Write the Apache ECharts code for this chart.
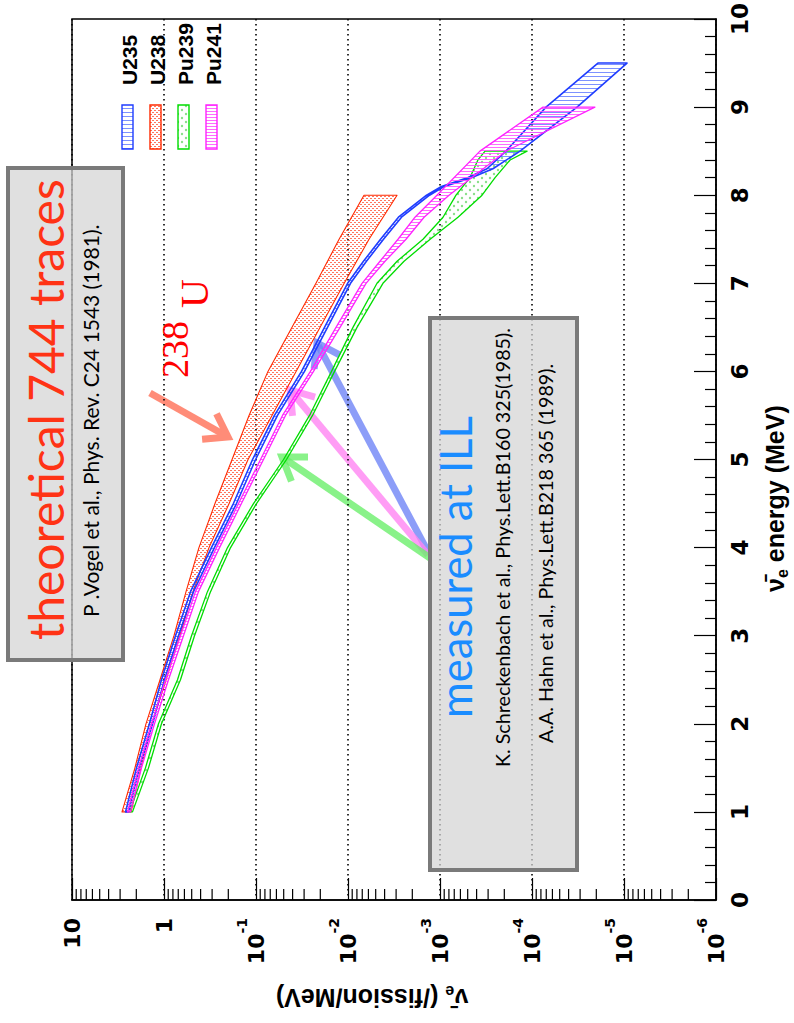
<!DOCTYPE html>
<html><head><meta charset="utf-8">
<script src="https://cdn.jsdelivr.net/npm/echarts@6/dist/echarts.min.js"></script>
<style>html,body{margin:0;padding:0;background:#fff}#c{width:794px;height:1023px}</style>
</head><body><div id="c"></div>
<script>
// ---- data (flux in nu / fission / MeV, energy in MeV) ----
const u235E  = [1.0,1.5,2.0,2.5,3.0,3.5,4.0,4.5,5.0,5.5,6.0,6.5,7.0,7.25,7.5,7.75,8.0,8.1,8.2,8.3,8.5,9.0,9.5];
const u235Hi = [2.62,1.99,1.44,1.065,0.750,0.515,0.305,0.176,0.109,0.0630,0.0320,0.0180,0.0101,0.00679,0.00443,0.00283,0.00140,0.000964,0.000496,0.000308,0.000192,0.0000704,0.0000192];
const u235Lo = [2.43,1.85,1.33,0.988,0.696,0.478,0.283,0.163,0.101,0.0584,0.0297,0.0167,0.00939,0.00630,0.00411,0.00262,0.00130,0.000894,0.000449,0.000266,0.000135,0.0000324,0.00000927];

const u238E  = [1.0,1.5,2.0,2.5,3.0,3.5,4.0,4.5,5.0,5.5,6.0,6.5,7.0,7.5,8.0];
const u238Hi = [2.86,2.07,1.57,1.105,0.779,0.576,0.417,0.279,0.182,0.119,0.0741,0.0406,0.0223,0.0125,0.00670];
const u238Lo = [2.28,1.78,1.35,0.95,0.670,0.484,0.324,0.196,0.122,0.0670,0.0367,0.0201,0.0110,0.00591,0.00293];

const pu239E  = [1.0,1.5,2.0,2.5,3.0,3.5,4.0,4.5,5.0,5.5,6.0,6.5,7.0,7.25,7.5,7.75,8.0,8.2,8.4,8.5];
const pu239Hi = [2.37,1.59,1.148,0.713,0.502,0.337,0.204,0.1065,0.0502,0.0262,0.0151,0.00883,0.00484,0.00293,0.00153,0.000927,0.000670,0.000472,0.000387,0.000324];
const pu239Lo = [2.20,1.474,1.065,0.662,0.466,0.312,0.189,0.0988,0.0466,0.0243,0.0140,0.00798,0.00417,0.00246,0.00128,0.000637,0.000349,0.000252,0.000173,0.000113];

const pu241E  = [1.0,1.5,2.0,2.5,3.0,3.5,4.0,4.5,5.0,5.5,6.0,6.5,7.0,7.25,7.5,7.75,8.0,8.5,9.0];
const pu241Hi = [2.49,1.89,1.367,0.963,0.662,0.455,0.269,0.155,0.0893,0.0515,0.0256,0.0135,0.00704,0.00449,0.00286,0.00187,0.00108,0.000368,0.0000759];
const pu241Lo = [2.31,1.756,1.268,0.894,0.614,0.422,0.249,0.144,0.0829,0.0478,0.0237,0.0122,0.00637,0.00396,0.00234,0.00149,0.000798,0.000192,0.0000207];

const isotopeNames = ['U235','U238','Pu239','Pu241'];
const logExponents = [1,0,-1,-2,-3,-4,-5,-6];
const minorMultipliers = [2,3,4,5,6,7,8,9];

// ---- styling helpers ----
const FONT = '"Liberation Sans", Arial, Helvetica, sans-serif';
const TFONT = '"DejaVu Sans", Verdana, sans-serif';
const AFONT = 'Lato, "Open Sans", "Liberation Sans", sans-serif';
function pat(w,h,draw){const c=document.createElement('canvas');c.width=w;c.height=h;const g=c.getContext('2d');draw(g);return {image:c.toDataURL(),repeat:'repeat'};}
const patU235  = pat(4,4,g=>{g.fillStyle='rgba(70,100,255,0.7)';g.fillRect(0,0,4,1);});
const patPu241 = pat(3,3,g=>{g.fillStyle='rgba(255,80,255,0.85)';g.fillRect(0,0,3,1);});
const patU238  = pat(4,4,g=>{g.fillStyle='rgba(255,70,40,0.75)';g.fillRect(0,0,2,1);g.fillRect(2,2,2,1);});
const patPu239 = pat(8,8,g=>{g.fillStyle='rgba(60,200,60,0.6)';g.beginPath();g.arc(2,2,1.2,0,7);g.fill();g.beginPath();g.arc(6,6,1.2,0,7);g.fill();});

const styles = {
  U235: {stroke:'#1f3dff', fill:patU235, lw:1.6},
  U238: {stroke:'#ff2a00', fill:patU238, lw:1.1},
  Pu239:{stroke:'#00dd00', fill:patPu239, lw:1.3},
  Pu241:{stroke:'#ff22ff', fill:patPu241, lw:1.3}
};

function band(name, E, hi, lo, z){
  const st = styles[name];
  return {
    type:'custom', name:name, coordinateSystem:'cartesian2d', silent:true, z:z,
    data: E.map((e,i)=>[hi[i], e, lo[i]]),
    encode:{x:[0,2], y:1},
    renderItem:function(params, api){
      if(params.dataIndex!==0) return null;
      const pts=[];
      for(let i=0;i<E.length;i++) pts.push(api.coord([hi[i],E[i]]));
      for(let i=E.length-1;i>=0;i--) pts.push(api.coord([lo[i],E[i]]));
      return {type:'polygon', shape:{points:pts}, style:{fill:st.fill, stroke:st.stroke, lineWidth:st.lw, lineJoin:'round'}};
    }
  };
}

const logMinor=[];
logExponents.forEach(n=>{ if(n<1) minorMultipliers.forEach(k=>logMinor.push(k*Math.pow(10,n))); });

function arrow(tail, tip, color, w, op, hl, ang){
  const dx=tip[0]-tail[0], dy=tip[1]-tail[1], L=Math.hypot(dx,dy), ux=dx/L, uy=dy/L;
  const c=Math.cos(ang), s=Math.sin(ang);
  const b1=[tip[0]-hl*(ux*c-uy*s), tip[1]-hl*(uy*c+ux*s)];
  const b2=[tip[0]-hl*(ux*c+uy*s), tip[1]-hl*(uy*c-ux*s)];
  return {type:'group', z:20, children:[
    {type:'polyline', shape:{points:[tail,[tip[0]-ux*3,tip[1]-uy*3]]}, style:{stroke:color, lineWidth:w, opacity:op, lineCap:'butt'}},
    {type:'polyline', shape:{points:[b1,tip,b2]}, style:{stroke:color, lineWidth:w, opacity:op, lineJoin:'miter', lineCap:'butt', fill:null}}
  ]};
}

const R = Math.PI/2;
function rtext(x,y,text,size,color,family,weight,align,extra){
  return Object.assign({type:'text', x:x, y:y, rotation:R, z:30,
    style:{text:text, fontSize:size, fontFamily:family, fontWeight:weight||'normal', fill:color, align:align||'left', verticalAlign:'middle'}}, extra||{});
}

const legendX = {U235:122, U238:150, Pu239:178, Pu241:206};
const legendEls = [];
isotopeNames.forEach(n=>{
  const x=legendX[n];
  legendEls.push({type:'rect', shape:{x:x,y:105,width:11,height:44}, style:{fill:styles[n].fill, stroke:styles[n].stroke, lineWidth:1.4}, z:30});
  legendEls.push(rtext(x+7.5,85,n,21,'#000',FONT,'bold','left'));
});

const titleRich = {n:{fontSize:25,fontWeight:'bold',fontFamily:FONT}, e:{fontSize:16,fontWeight:'bold',fontFamily:FONT,verticalAlign:'bottom',lineHeight:30}, t:{fontSize:25,fontWeight:'bold',fontFamily:FONT}};

const option = {
  animation:false,
  backgroundColor:'#fff',
  grid:{left:72, right:78, top:5, bottom:123, show:true, borderColor:'#000', borderWidth:1.5, backgroundColor:'transparent'},
  xAxis:{
    type:'log', logBase:10, min:1e-6, max:10, inverse:true, position:'bottom', splitNumber:7,
    axisLine:{show:true, onZero:false, lineStyle:{color:'#000', width:1.5}},
    axisTick:{show:true, inside:true, length:22, lineStyle:{color:'#000', width:1.2}},
    axisLabel:{rotate:90, margin:18, color:'#000', padding:[0,0,10,0],
      formatter:function(v){const n=Math.round(Math.log10(v)); if(n===1) return '{b|10}'; if(n===0) return '{b|1}'; return '{b|10}{s|'+n+'}';},
      rich:{b:{fontSize:22, fontWeight:'bold', fontFamily:TFONT, color:'#000', lineHeight:32, verticalAlign:'bottom'},
            s:{fontSize:14, fontWeight:'bold', fontFamily:TFONT, color:'#000', lineHeight:32, verticalAlign:'top'}}},
    splitLine:{show:true, lineStyle:{color:'#000', type:[1.5,3.5], width:1.6}}
  },
  yAxis:{
    type:'value', min:0, max:10, interval:1, position:'right',
    axisLine:{show:true, onZero:false, lineStyle:{color:'#000', width:1.5}},
    axisTick:{show:true, inside:true, length:22, lineStyle:{color:'#000', width:1.2}},
    minorTick:{show:true, splitNumber:5, length:11, lineStyle:{color:'#000', width:1.2}},
    axisLabel:{rotate:90, margin:12, color:'#000', fontSize:23, fontWeight:'bold', fontFamily:TFONT},
    splitLine:{show:false}
  },
  series:[
    band('U238', u238E, u238Hi, u238Lo, 2),
    band('Pu239', pu239E, pu239Hi, pu239Lo, 3),
    band('U235', u235E, u235Hi, u235Lo, 4),
    band('Pu241', pu241E, pu241Hi, pu241Lo, 5),
    {type:'custom', name:'minorTicks', silent:true, z:10, clip:false,
     data: logMinor.map(v=>[v,0]), encode:{x:0,y:1},
     renderItem:function(p,api){const pt=api.coord([api.value(0),0]); return {type:'line', shape:{x1:pt[0],y1:pt[1],x2:pt[0],y2:pt[1]-11}, style:{stroke:'#000', lineWidth:1.2}};}}
  ],
  graphic:[
    // theory box
    {type:'rect', shape:{x:8,y:168,width:115,height:492}, style:{fill:'rgba(212,212,212,0.72)', stroke:'#7a7a7a', lineWidth:4}, z:15},
    rtext(45,640,'theoretical 744 traces',48,'#ff3315',AFONT,'normal','left'),
    rtext(90,617,'P .Vogel et al., Phys. Rev. C24 1543 (1981).',21,'#000',AFONT,'normal','left'),
    // ILL box
    {type:'rect', shape:{x:430,y:318,width:147,height:552}, style:{fill:'rgba(212,212,212,0.72)', stroke:'#7a7a7a', lineWidth:4}, z:15},
    rtext(455,718,'measured at ILL',43.5,'#1a8cff',AFONT,'normal','left'),
    rtext(502,767,'K. Schreckenbach et al., Phys.Lett.B160 325(1985).',19.7,'#000',AFONT,'normal','left'),
    rtext(545,743,'A.A. Hahn et al., Phys.Lett.B218 365 (1989).',19.7,'#000',AFONT,'normal','left'),
    // 238U label
    rtext(175,378,'238',38,'#ff0000','"Liberation Serif", "Times New Roman", serif','normal','left'),
    rtext(194,308,'U',40,'#ff0000','"Liberation Serif", "Times New Roman", serif','normal','left'),
    // arrows
    arrow([150,393],[228,437],'#ff8c78',7,1,26,0.6),
    arrow([428,552],[317,343],'#6f84f6',7,0.8,26,0.6),
    arrow([428,555],[290,390],'#ff84f2',7,0.8,26,0.6),
    arrow([430,558],[282,457],'#6cef6c',7,0.8,26,0.6),
    // axis titles
    {type:'text', x:775, y:592, rotation:R, z:30, style:{text:'{n|\u03BD\u0304}{e|e}{t| energy (MeV)}', align:'left', verticalAlign:'middle', rich:titleRich}},
    {type:'text', x:372, y:998, rotation:Math.PI, z:30, style:{text:'{n|\u03BD\u0304}{e|e}{t| (/fission/MeV)}', align:'center', verticalAlign:'middle', rich:titleRich}}
  ].concat(legendEls)
};

const chart = echarts.init(document.getElementById('c'), null, {renderer:'svg', width:794, height:1023});
chart.setOption(option);
</script>
</body></html>
